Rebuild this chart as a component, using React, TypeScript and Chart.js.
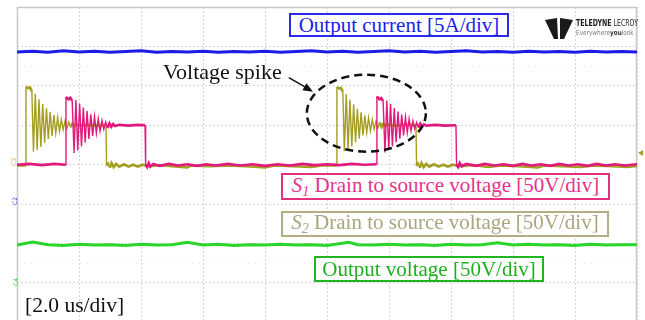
import React, { useEffect, useRef } from "react";
import { Chart, registerables } from "chart.js";
Chart.register(...registerables);

// Time axis in microseconds (2.0 us/div, 10 divisions); vertical axis in screen divisions
const timeTicks = [0, 2, 4, 6, 8, 10, 12, 14, 16, 18, 20];
const divTicks = [-3, -2, -1, 0, 1, 2, 3, 4];
const minorDivTicks = [-2.5, 2.5];

const outputCurrent: [number, number][] = [
  [0, 2.86], [0.5, 2.88], [1, 2.85], [1.5, 2.89], [2, 2.86], [2.5, 2.88], [3, 2.85], [3.5, 2.87],
  [4, 2.89], [4.5, 2.85], [5, 2.87], [5.5, 2.86], [6, 2.88], [6.5, 2.85], [7, 2.87], [7.5, 2.86],
  [8, 2.88], [8.5, 2.85], [9, 2.87], [9.5, 2.89], [10, 2.86], [10.5, 2.88], [11, 2.85], [11.5, 2.87],
  [12, 2.89], [12.5, 2.86], [13, 2.88], [13.5, 2.85], [14, 2.87], [14.5, 2.89], [15, 2.86], [15.5, 2.87],
  [16, 2.85], [16.5, 2.88], [17, 2.86], [17.5, 2.87], [18, 2.85], [18.5, 2.88], [19, 2.86], [19.5, 2.87], [20, 2.86],
];

const outputVoltage: [number, number][] = [
  [0, -2.04], [0.5, -1.96], [1, -2.03], [1.5, -2.05], [2, -2.02], [2.5, -2.04], [3, -2.03], [3.5, -2.05],
  [4, -2.02], [4.5, -2.04], [5, -2.03], [5.5, -1.97], [6, -2.04], [6.5, -2.02], [7, -2.05], [7.5, -2.03],
  [8, -2.04], [8.5, -2.02], [9, -2.04], [9.5, -2.03], [10, -2.05], [10.7, -1.97], [11, -2.03], [11.5, -2.04],
  [12, -2.02], [12.5, -2.04], [13, -2.03], [13.5, -2.05], [14, -2.02], [14.5, -2.04], [15, -2.03], [15.5, -1.98],
  [16, -2.04], [16.5, -2.02], [17, -2.04], [17.5, -2.03], [18, -2.05], [18.5, -2.02], [19, -2.04], [19.5, -2.03], [20, -2.03],
];

const s1Voltage: [number, number][] = [
  [0, 0.0], [0.4, 0.02], [0.8, -0.01], [1.2, 0.02], [1.57, 0.0],
  [1.58, 1.72], [1.66, 1.66], [1.72, 1.7], [1.78, 1.62],
  [1.84, 0.3], [1.9, 1.64], [1.96, 0.36], [2.02, 1.55], [2.08, 0.46], [2.14, 1.45], [2.2, 0.56], [2.26, 1.36],
  [2.32, 0.65], [2.38, 1.28], [2.44, 0.73], [2.5, 1.22], [2.56, 0.8], [2.62, 1.17], [2.68, 0.85], [2.74, 1.12],
  [2.8, 0.9], [2.86, 1.08], [2.92, 0.93], [2.98, 1.05], [3.04, 0.96], [3.1, 1.03], [3.16, 0.98], [3.3, 1.01],
  [3.6, 0.99], [3.9, 1.01], [4.13, 1.0],
  [4.15, 0.0], [4.2, -0.06], [4.25, 0.04], [4.3, -0.05], [4.4, 0.02], [4.6, -0.03], [4.9, 0.02], [5.2, -0.02],
  [5.5, 0.01], [5.8, -0.03], [6.1, 0.01], [6.4, -0.02], [6.8, 0.02], [7.2, -0.02], [7.6, 0.01], [8.0, -0.03],
  [8.4, 0.01], [8.8, -0.02], [9.2, 0.02], [9.6, -0.01], [10.0, 0.01], [10.4, -0.01], [10.8, 0.02], [11.2, 0.0], [11.6, 0.01],
  [11.61, 1.73], [11.69, 1.66], [11.75, 1.69], [11.81, 1.61],
  [11.87, 0.31], [11.93, 1.63], [11.99, 0.37], [12.05, 1.54], [12.11, 0.47], [12.17, 1.44], [12.23, 0.57], [12.29, 1.35],
  [12.35, 0.66], [12.41, 1.27], [12.47, 0.74], [12.53, 1.21], [12.59, 0.81], [12.65, 1.16], [12.71, 0.86], [12.77, 1.11],
  [12.83, 0.91], [12.89, 1.07], [12.95, 0.94], [13.01, 1.04], [13.07, 0.97], [13.13, 1.02], [13.2, 0.99], [13.5, 1.01],
  [13.8, 0.99], [14.16, 1.0],
  [14.18, 0.0], [14.23, -0.06], [14.28, 0.04], [14.35, -0.04], [14.5, 0.02], [14.8, -0.03], [15.1, 0.02], [15.4, -0.02],
  [15.7, 0.01], [16.0, -0.03], [16.3, 0.02], [16.6, -0.02], [16.9, 0.01], [17.2, -0.03], [17.5, 0.02], [17.8, -0.02],
  [18.1, 0.01], [18.4, -0.03], [18.7, 0.02], [19.0, -0.02], [19.3, 0.01], [19.6, -0.02], [20, 0.01],
];

const s2Voltage: [number, number][] = [
  [0, -0.02], [0.28, -0.02],
  [0.29, 1.98], [0.36, 1.94], [0.42, 1.96], [0.48, 1.86],
  [0.53, 0.33], [0.59, 1.8], [0.65, 0.37], [0.71, 1.66], [0.77, 0.45], [0.83, 1.54], [0.89, 0.56], [0.95, 1.43],
  [1.01, 0.65], [1.07, 1.34], [1.13, 0.73], [1.19, 1.26], [1.25, 0.8], [1.31, 1.2], [1.37, 0.85], [1.43, 1.15],
  [1.49, 0.89], [1.55, 1.11], [1.61, 0.92], [1.67, 1.08], [1.73, 0.95], [1.79, 1.05], [1.85, 0.97], [1.91, 1.03],
  [2.0, 0.99], [2.3, 1.01], [2.6, 0.99], [2.87, 1.0],
  [2.89, -0.03], [2.94, 0.06], [2.99, -0.08], [3.05, 0.04], [3.12, -0.06], [3.2, 0.02], [3.3, -0.05], [3.45, 0.01],
  [3.6, -0.05], [3.75, 0.0], [3.9, -0.05], [4.05, 0.0], [4.3, -0.04], [4.6, -0.01], [5.0, -0.04], [5.5, -0.07],
  [5.6, -0.02], [6.2, -0.04], [6.8, -0.02], [7.4, -0.04], [8.0, -0.07], [8.3, -0.02], [8.9, -0.04], [9.5, -0.06],
  [9.8, -0.02], [10.31, -0.02],
  [10.32, 1.97], [10.39, 1.93], [10.45, 1.95], [10.51, 1.85],
  [10.56, 0.34], [10.62, 1.79], [10.68, 0.38], [10.74, 1.65], [10.8, 0.46], [10.86, 1.53], [10.92, 0.57], [10.98, 1.42],
  [11.04, 0.66], [11.1, 1.33], [11.16, 0.74], [11.22, 1.25], [11.28, 0.81], [11.34, 1.19], [11.4, 0.86], [11.46, 1.14],
  [11.52, 0.9], [11.58, 1.1], [11.64, 0.93], [11.7, 1.07], [11.76, 0.96], [11.82, 1.04], [11.88, 0.98], [11.95, 1.02],
  [12.2, 0.99], [12.5, 1.01], [12.87, 1.0],
  [12.89, -0.03], [12.94, 0.06], [12.99, -0.08], [13.05, 0.04], [13.12, -0.06], [13.2, 0.02], [13.3, -0.05], [13.45, 0.01],
  [13.6, -0.05], [13.75, 0.0], [13.9, -0.05], [14.05, 0.0], [14.3, -0.04], [14.7, -0.01], [15.2, -0.06], [15.6, -0.02],
  [16.2, -0.04], [16.8, -0.07], [17.0, -0.02], [17.6, -0.04], [18.2, -0.06], [18.6, -0.02], [19.2, -0.04], [19.7, -0.06], [20, -0.03],
];

// annotation anchors (data coordinates)
const spikeEllipse = { t: 11.27, v: 1.306, rt: 1.92, rv: 0.976 };
const spikeArrow = { fromT: 8.77, fromV: 2.21, toT: 9.55, toV: 1.85 };

const BLUE = "#1c1ce6";
const PINK = "#e2197c";
const OLIVE = "#a49e22";
const GREEN = "#2ad62a";

const toXY = (arr: [number, number][]) => arr.map(([x, y]) => ({ x, y }));

// thin strokes for steep (switching / ringing) segments, thicker for flat segments
const steepWidth = (ctx: any) => {
  const dy = Math.abs(ctx.p1.parsed.y - ctx.p0.parsed.y);
  return dy > 0.12 ? 1.4 : 2.6;
};

const overlayPlugin = {
  id: "scopeOverlay",
  beforeDatasetsDraw(chart: any) {
    const { ctx, chartArea } = chart;
    const { left, right, top, bottom } = chartArea;
    ctx.save();
    ctx.strokeStyle = "#c8c8c8";
    ctx.lineWidth = 1.5;
    ctx.beginPath();
    ctx.moveTo(left + 0.5, bottom);
    ctx.lineTo(left + 0.5, top + 0.5);
    ctx.lineTo(right - 0.5, top + 0.5);
    ctx.lineTo(right - 0.5, bottom);
    ctx.stroke();
    ctx.restore();
  },
  afterDatasetsDraw(chart: any) {
    const { ctx } = chart;
    const xs = chart.scales.x;
    const ys = chart.scales.y;
    const cx = xs.getPixelForValue(spikeEllipse.t);
    const cy = ys.getPixelForValue(spikeEllipse.v);
    const rx = Math.abs(xs.getPixelForValue(spikeEllipse.t + spikeEllipse.rt) - cx);
    const ry = Math.abs(ys.getPixelForValue(spikeEllipse.v + spikeEllipse.rv) - cy);
    ctx.save();
    ctx.strokeStyle = "#111";
    ctx.lineWidth = 2.5;
    ctx.setLineDash([8, 5]);
    ctx.beginPath();
    ctx.ellipse(cx, cy, rx, ry, 0, 0, Math.PI * 2);
    ctx.stroke();
    ctx.setLineDash([]);
    const x1 = xs.getPixelForValue(spikeArrow.fromT);
    const y1 = ys.getPixelForValue(spikeArrow.fromV);
    const x2 = xs.getPixelForValue(spikeArrow.toT);
    const y2 = ys.getPixelForValue(spikeArrow.toV);
    const ang = Math.atan2(y2 - y1, x2 - x1);
    ctx.lineWidth = 1.5;
    ctx.beginPath();
    ctx.moveTo(x1, y1);
    ctx.lineTo(x2 - 6 * Math.cos(ang), y2 - 6 * Math.sin(ang));
    ctx.stroke();
    ctx.fillStyle = "#111";
    ctx.beginPath();
    ctx.moveTo(x2, y2);
    ctx.lineTo(x2 - 10 * Math.cos(ang) + 4 * Math.sin(ang), y2 - 10 * Math.sin(ang) - 4 * Math.cos(ang));
    ctx.lineTo(x2 - 10 * Math.cos(ang) - 4 * Math.sin(ang), y2 - 10 * Math.sin(ang) + 4 * Math.cos(ang));
    ctx.closePath();
    ctx.fill();
    ctx.restore();
  },
};

const serif = "'Liberation Serif', 'Times New Roman', serif";

const boxStyle = (left: number, top: number, width: number, height: number, color: string, text: string): React.CSSProperties => ({
  position: "absolute",
  left,
  top,
  width,
  height,
  boxSizing: "border-box",
  border: `2px solid ${color}`,
  background: "#fff",
  color: text,
  fontFamily: serif,
  fontSize: 21,
  lineHeight: 1,
  display: "flex",
  alignItems: "center",
  justifyContent: "center",
  whiteSpace: "nowrap",
});

export default function App() {
  const canvasRef = useRef<HTMLCanvasElement | null>(null);

  useEffect(() => {
    document.body.style.margin = "0";
    const canvas = canvasRef.current;
    if (!canvas) return;
    const chart = new Chart(canvas, {
      type: "line",
      data: {
        datasets: [
          { label: "S1", data: toXY(s1Voltage), borderColor: PINK, borderWidth: 2.6, segment: { borderWidth: steepWidth } },
          { label: "S2", data: toXY(s2Voltage), borderColor: OLIVE, borderWidth: 2.6, segment: { borderWidth: steepWidth } },
          { label: "Output current", data: toXY(outputCurrent), borderColor: BLUE, borderWidth: 3 },
          { label: "Output voltage", data: toXY(outputVoltage), borderColor: GREEN, borderWidth: 3 },
        ] as any,
      },
      options: {
        responsive: false,
        animation: false,
        events: [],
        layout: { padding: { left: 17, right: 8, top: 7, bottom: 0 } },
        elements: { point: { radius: 0 }, line: { tension: 0, borderJoinStyle: "miter" as any } },
        plugins: { legend: { display: false }, tooltip: { enabled: false } },
        scales: {
          x: {
            type: "linear",
            min: timeTicks[0],
            max: timeTicks[timeTicks.length - 1],
            afterBuildTicks: (s: any) => {
              s.ticks = timeTicks.map((v) => ({ value: v }));
            },
            ticks: { display: false },
            grid: { color: "#d4d4d4", lineWidth: 1, drawTicks: false },
            border: { display: false, dash: [2, 2] },
          },
          y: {
            type: "linear",
            min: -3.94,
            max: 4,
            afterBuildTicks: (s: any) => {
              s.ticks = [...divTicks, ...minorDivTicks].sort((a, b) => a - b).map((v) => ({ value: v }));
            },
            ticks: { display: false },
            grid: {
              color: (c: any) => (minorDivTicks.includes(c.tick?.value) ? "#e2e2e2" : "#d4d4d4"),
              lineWidth: 1,
              drawTicks: false,
            },
            border: {
              display: false,
              dash: (c: any) => (minorDivTicks.includes(c.tick?.value) ? [1, 6] : [2, 2]),
            } as any,
          },
        },
      } as any,
      plugins: [overlayPlugin],
    });
    return () => chart.destroy();
  }, []);

  const markerText: React.CSSProperties = {
    position: "absolute",
    fontFamily: "'DejaVu Sans', sans-serif",
    fontSize: 6,
    transform: "rotate(-90deg)",
    transformOrigin: "left top",
  };

  return (
    <div style={{ position: "fixed", left: 0, top: 0, width: 645, height: 320, background: "#fff", overflow: "hidden" }}>
      <canvas ref={canvasRef} width={645} height={320} style={{ display: "block" }} />

      <div style={boxStyle(289, 13, 220, 24, "#2a2ae8", "#2020ee")}>Output current [5A/div]</div>

      <div style={{ position: "absolute", left: 163, top: 61, fontFamily: serif, fontSize: 22, lineHeight: "22px", color: "#111", whiteSpace: "nowrap" }}>
        Voltage spike
      </div>

      <div style={boxStyle(281, 173, 329, 27, "#e4307f", "#e5338a")}>
        <span>
          <i>S</i>
          <sub style={{ fontSize: 14, verticalAlign: -4 }}><i>1</i></sub> Drain to source voltage [50V/div]
        </span>
      </div>

      <div style={boxStyle(281, 211, 328, 26, "#b3ae84", "#aaa57c")}>
        <span>
          <i>S</i>
          <sub style={{ fontSize: 14, verticalAlign: -4 }}><i>2</i></sub> Drain to source voltage [50V/div]
        </span>
      </div>

      <div style={boxStyle(314, 256, 230, 26, "#22b422", "#1fae1f")}>Output voltage [50V/div]</div>

      <div style={{ position: "absolute", left: 25, top: 295, fontFamily: serif, fontSize: 21.5, lineHeight: "21px", color: "#111", whiteSpace: "nowrap" }}>
        [2.0 us/div]
      </div>

      {/* Teledyne LeCroy logo */}
      <svg style={{ position: "absolute", left: 545, top: 18 }} width={28} height={22} viewBox="0 0 28 22">
        <polygon points="0,2 12,0 13,21 9,21" fill="#1a1a1a" />
        <polygon points="15,0 28,2 19,21 15,21" fill="#1a1a1a" />
      </svg>
      <div style={{ position: "absolute", left: 576, top: 19, fontFamily: "'DejaVu Sans', sans-serif", fontSize: 8, lineHeight: "9px", whiteSpace: "nowrap", color: "#222", transform: "scaleX(0.78)", transformOrigin: "left top" }}>
        <b>TELEDYNE</b> LECROY
      </div>
      <div style={{ position: "absolute", left: 576, top: 29, fontFamily: "'DejaVu Sans', sans-serif", fontSize: 7, lineHeight: "8px", whiteSpace: "nowrap", color: "#777", transform: "scaleX(0.82)", transformOrigin: "left top" }}>
        Everywhere<b style={{ color: "#333" }}>you</b>look
      </div>

      {/* channel markers */}
      <div style={{ ...markerText, left: 10, top: 166, color: "#d8a040" }}>C3</div>
      <div style={{ ...markerText, left: 11, top: 205, color: "#3a3ae8" }}>C2</div>
      <div style={{ ...markerText, left: 12, top: 286, color: "#3ad03a" }}>C4</div>
      <div style={{ position: "absolute", left: 638, top: 150, width: 0, height: 0, borderTop: "3px solid transparent", borderBottom: "3px solid transparent", borderRight: `5px solid ${OLIVE}` }} />
    </div>
  );
}
